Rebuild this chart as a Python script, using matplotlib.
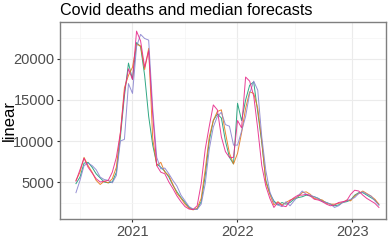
import matplotlib
matplotlib.use("Agg")
import matplotlib.pyplot as plt
from matplotlib.ticker import FixedLocator

plt.rcParams['font.family'] = ['Liberation Sans', 'DejaVu Sans']

# week index, one point every two weeks
weeks = list(range(0, 152, 2))

# median forecasts of the different models
teal = [4800, 5600, 7300, 7400, 6800, 6000, 5500, 5000, 4900, 5000,
        6200, 10500, 15500, 19500, 17500, 22000, 21500, 18000, 13000, 9500,
        7200, 6800, 6300, 5600, 4600, 3800, 3100, 2500, 1900, 1650,
        1700, 2600, 5800, 10000, 12500, 13300, 12800, 10000, 8000, 7200,
        14600, 12500, 15000, 16800, 17200, 13500, 9800, 5200, 3600, 2700,
        2200, 2500, 2300, 2500, 2900, 3100, 3200, 3400, 3300, 3200,
        3000, 2700, 2500, 2300, 2100, 2200, 2500, 2600, 2800, 3400,
        3700, 3700, 3400, 3100, 2800, 2200]
orange = [5200, 6200, 8000, 7000, 6200, 5200, 4700, 5100, 4900, 5400,
          6800, 11000, 16500, 18000, 19000, 21800, 21600, 18700, 21300, 10300,
          7000, 7400, 6200, 5800, 4700, 3600, 3000, 2300, 1800, 1600,
          1800, 3000, 6500, 10500, 12500, 13600, 13800, 11000, 8500, 7200,
          8500, 11000, 14000, 16000, 15800, 14000, 10000, 5000, 3500, 2200,
          2600, 2200, 2500, 2800, 3000, 3200, 3700, 3800, 3500, 3000,
          2900, 2800, 2400, 2300, 2300, 2400, 2500, 2800, 2700, 3300,
          3600, 3900, 3600, 3300, 2900, 2300]
purple = [3700, 5200, 7000, 7300, 7000, 6500, 5600, 5300, 5200, 4900,
          5800, 10000, 10200, 17000, 15800, 21500, 23000, 22500, 22300, 14000,
          8000, 6600, 6700, 6000, 5200, 4500, 3400, 2700, 2000, 1700,
          1650, 2300, 4800, 9000, 11700, 13000, 13500, 12000, 11800, 9500,
          9500, 11200, 13000, 15800, 17300, 16200, 10500, 6400, 3800, 2500,
          2200, 2000, 2600, 2100, 2700, 3300, 3900, 3500, 3400, 3200,
          3000, 2600, 2500, 2300, 1900, 2100, 2500, 2700, 2900, 3100,
          3600, 3800, 3500, 3300, 2700, 2200]
pink = [5100, 6500, 7900, 6800, 6100, 5400, 5000, 5100, 5200, 6200,
        8000, 11000, 16000, 18800, 17500, 23400, 22200, 19000, 21000, 13200,
        7000, 6200, 6000, 5000, 4200, 3300, 2600, 2000, 1700, 1650,
        2100, 4800, 9000, 11800, 14400, 13800, 10500, 8700, 8000, 8000,
        12500, 11600, 17800, 17300, 15500, 11500, 7000, 4500, 3000, 1900,
        2500, 2100, 2000, 2700, 3100, 3400, 3400, 3500, 3300, 2900,
        2800, 2600, 2300, 2100, 2200, 2500, 2600, 2700, 3500, 4000,
        3900, 3400, 3000, 2700, 2400, 1900]

series = [teal, orange, purple, pink]
colors = ['#1B9E77', '#E8791C', '#8B85D0', '#E7298A']

year_pos = [27.9, 79.9, 136.8]
year_labels = ['2021', '2022', '2023']
minor_x = [1.9, 53.9, 108.4]

fig = plt.figure(figsize=(3.89, 2.40), dpi=100)
ax = fig.add_axes([60/389, 21/240, 326/389, 197/240])

for s, c in zip(series, colors):
    ax.plot(weeks, s, color=c, lw=0.7, alpha=0.9)

ax.set_xlim(-7.9, 153.5)
ax.set_ylim(490, 24510)
ax.set_xticks(year_pos)
ax.set_xticklabels(year_labels)
ax.xaxis.set_minor_locator(FixedLocator(minor_x))
ax.set_yticks([5000, 10000, 15000, 20000])
ax.yaxis.set_minor_locator(FixedLocator([2500, 7500, 12500, 17500, 22500]))

ax.grid(True, which='major', color='#EBEBEB', lw=0.8)
ax.grid(True, which='minor', color='#F4F4F4', lw=0.5)
ax.set_axisbelow(True)
ax.tick_params(which='major', length=2.5, color='#333333', labelsize=10.5,
               labelcolor='#4D4D4D', pad=1.5)
ax.tick_params(which='minor', length=0)
for sp in ax.spines.values():
    sp.set_color('#7F7F7F')
    sp.set_linewidth(1.0)

ax.set_ylabel('linear', fontsize=12)
ax.yaxis.set_label_coords(-0.133, 0.5)
ax.set_title('Covid deaths and median forecasts', fontsize=11.6, loc='left', pad=5)

fig.savefig('out.png', dpi=100)
